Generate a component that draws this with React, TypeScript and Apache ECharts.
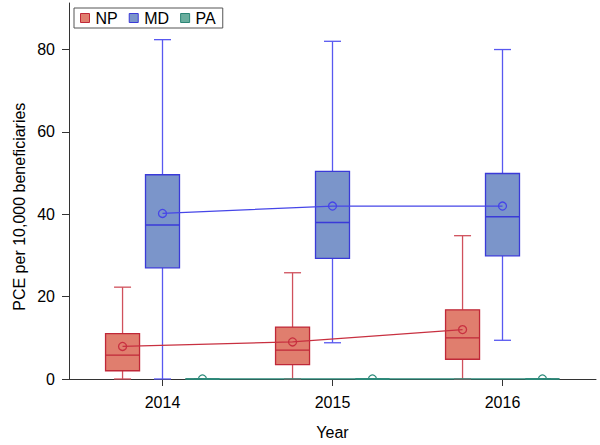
import React, { useEffect, useRef } from "react";
import * as echarts from "echarts";

// ---- data ----
const years = [2014, 2015, 2016];
const yTicks = [0, 20, 40, 60, 80];

const npMin = [0, 0, 0];
const npQ1 = [2.0, 3.5, 4.8];
const npMedian = [5.8, 7.0, 10.0];
const npQ3 = [11.0, 12.6, 16.8];
const npMax = [22.3, 25.8, 34.8];
const npMean = [7.9, 9.0, 12.0];

const mdMin = [0, 8.8, 9.4];
const mdQ1 = [27.0, 29.3, 29.9];
const mdMedian = [37.4, 38.0, 39.4];
const mdQ3 = [49.6, 50.4, 49.9];
const mdMax = [82.4, 82.0, 80.0];
const mdMean = [40.2, 42.0, 42.0];

const paMin = [0, 0, 0];
const paQ1 = [0, 0, 0];
const paMedian = [0, 0, 0];
const paQ3 = [0, 0, 0];
const paMax = [0, 0, 0];
const paMean = [0, 0, 0];

const FONT = "Liberation Sans, Arial, sans-serif";

type Grp = {
  name: string;
  offset: number;
  min: number[];
  q1: number[];
  med: number[];
  q3: number[];
  max: number[];
  mean: number[];
  fill: string;
  border: string;
  whisker: string;
  meanColor: string;
};

const groups: Grp[] = [
  { name: "NP", offset: -0.235, min: npMin, q1: npQ1, med: npMedian, q3: npQ3, max: npMax, mean: npMean,
    fill: "#E07E6E", border: "#C02838", whisker: "#D0505C", meanColor: "#C83040" },
  { name: "MD", offset: 0, min: mdMin, q1: mdQ1, med: mdMedian, q3: mdQ3, max: mdMax, mean: mdMean,
    fill: "#7B95CA", border: "#3A3AD8", whisker: "#5858F0", meanColor: "#4646E8" },
  { name: "PA", offset: 0.235, min: paMin, q1: paQ1, med: paMedian, q3: paQ3, max: paMax, mean: paMean,
    fill: "#6AAE9E", border: "#2B8576", whisker: "#2E8C7C", meanColor: "#2E8C7C" },
];

const HALF_BOX = 0.1;
const HALF_CAP = 0.05;

function boxSeries(g: Grp) {
  const data = years.map((y, i) => [y + g.offset, g.min[i], g.q1[i], g.med[i], g.q3[i], g.max[i]]);
  return {
    type: "custom",
    name: g.name,
    data,
    encode: { x: 0, y: [1, 2, 3, 4, 5] },
    itemStyle: { color: g.fill, borderColor: g.border },
    z: 2,
    renderItem: (params: any, api: any) => {
      const x = api.value(0);
      const c = (v: number, dx = 0) => api.coord([x + dx, v]);
      const pMin = c(api.value(1));
      const pQ1 = c(api.value(2));
      const pMed = c(api.value(3));
      const pQ3 = c(api.value(4));
      const pMax = c(api.value(5));
      const left = c(api.value(4), -HALF_BOX)[0];
      const right = c(api.value(4), HALF_BOX)[0];
      const capL = c(0, -HALF_CAP)[0];
      const capR = c(0, HALF_CAP)[0];
      const px = pMed[0];
      const wStyle = { stroke: g.whisker, lineWidth: 1.3, fill: null };
      return {
        type: "group",
        children: [
          { type: "line", shape: { x1: px, y1: pMax[1], x2: px, y2: pQ3[1] }, style: wStyle },
          { type: "line", shape: { x1: px, y1: pQ1[1], x2: px, y2: pMin[1] }, style: wStyle },
          { type: "line", shape: { x1: capL, y1: pMax[1], x2: capR, y2: pMax[1] }, style: wStyle },
          { type: "line", shape: { x1: capL, y1: pMin[1], x2: capR, y2: pMin[1] }, style: wStyle },
          {
            type: "rect",
            shape: { x: left, y: pQ3[1], width: right - left, height: pQ1[1] - pQ3[1] },
            style: { fill: g.fill, stroke: g.border, lineWidth: 1.3 },
          },
          { type: "line", shape: { x1: left, y1: pMed[1], x2: right, y2: pMed[1] },
            style: { stroke: g.border, lineWidth: 1.3 } },
        ],
      };
    },
  };
}

function meanLineSeries(g: Grp) {
  return {
    type: "line",
    name: g.name,
    data: years.map((y, i) => [y + g.offset, g.mean[i]]),
    showSymbol: false,
    symbol: "none",
    lineStyle: { color: g.meanColor, width: 1.3 },
    itemStyle: { color: g.meanColor },
    z: 3,
  };
}

function meanMarkerSeries(g: Grp) {
  return {
    type: "custom",
    name: g.name,
    clip: true,
    data: years.map((y, i) => [y + g.offset, g.mean[i]]),
    z: 4,
    renderItem: (params: any, api: any) => {
      const p = api.coord([api.value(0), api.value(1)]);
      return {
        type: "circle",
        shape: { cx: p[0], cy: p[1], r: 4 },
        style: { fill: null, stroke: g.meanColor, lineWidth: 1.3 },
      };
    },
  };
}

export default function App() {
  const ref = useRef<HTMLDivElement>(null);
  useEffect(() => {
    if (!ref.current) return;
    const chart = echarts.init(ref.current, undefined, { renderer: "svg" });
    const series: any[] = [];
    groups.forEach((g) => series.push(boxSeries(g)));
    groups.forEach((g) => series.push(meanLineSeries(g)));
    groups.forEach((g) => series.push(meanMarkerSeries(g)));
    chart.setOption({
      animation: false,
      backgroundColor: "#fff",
      textStyle: { fontFamily: FONT },
      grid: { left: 69, right: 4, top: 3, bottom: 61.5, containLabel: false },
      legend: {
        left: 74,
        top: 8,
        orient: "horizontal",
        selectedMode: false,
        padding: [2, 7, 2, 6],
        borderColor: "#555",
        borderWidth: 1,
        backgroundColor: "#fff",
        itemWidth: 9,
        itemHeight: 9,
        itemGap: 11,
        icon: "rect",
        textStyle: { fontSize: 16, color: "#000", fontFamily: FONT, padding: [0, 0, 0, 1] },
        data: groups.map((g) => ({
          name: g.name,
          icon: "rect",
          itemStyle: { color: g.fill, borderColor: g.border, borderWidth: 1 },
        })),
      },
      xAxis: {
        type: "value",
        min: 2013.45,
        max: 2016.55,
        name: "Year",
        nameLocation: "middle",
        nameGap: 45,
        nameTextStyle: { fontSize: 16, color: "#000", fontFamily: FONT },
        axisLine: { show: true, onZero: false, lineStyle: { color: "#333", width: 1 } },
        axisTick: { show: true, length: 7, customValues: years, lineStyle: { color: "#333" } },
        axisLabel: {
          customValues: years,
          margin: 15,
          fontSize: 16,
          color: "#000",
          fontFamily: FONT,
          formatter: (v: number) => String(Math.round(v)),
        },
        splitLine: { show: false },
      },
      yAxis: {
        type: "value",
        min: 0,
        max: 91.3,
        axisLine: { show: true, lineStyle: { color: "#333", width: 1 } },
        axisTick: { show: true, length: 7, customValues: yTicks, lineStyle: { color: "#333" } },
        axisLabel: {
          customValues: yTicks,
          margin: 14,
          fontSize: 16,
          color: "#000",
          fontFamily: FONT,
        },
        splitLine: { show: false },
      },
      graphic: [
        {
          type: "text",
          x: 19,
          y: 206.7,
          rotation: Math.PI / 2,
          style: {
            text: "PCE per 10,000 beneficiaries",
            font: `16px ${FONT}`,
            fill: "#000",
            align: "center",
            verticalAlign: "middle",
          },
        },
      ],
      series,
    });
    return () => chart.dispose();
  }, []);
  return <div ref={ref} style={{ width: 600, height: 445, position: "fixed", left: 0, top: 0 }} />;
}
